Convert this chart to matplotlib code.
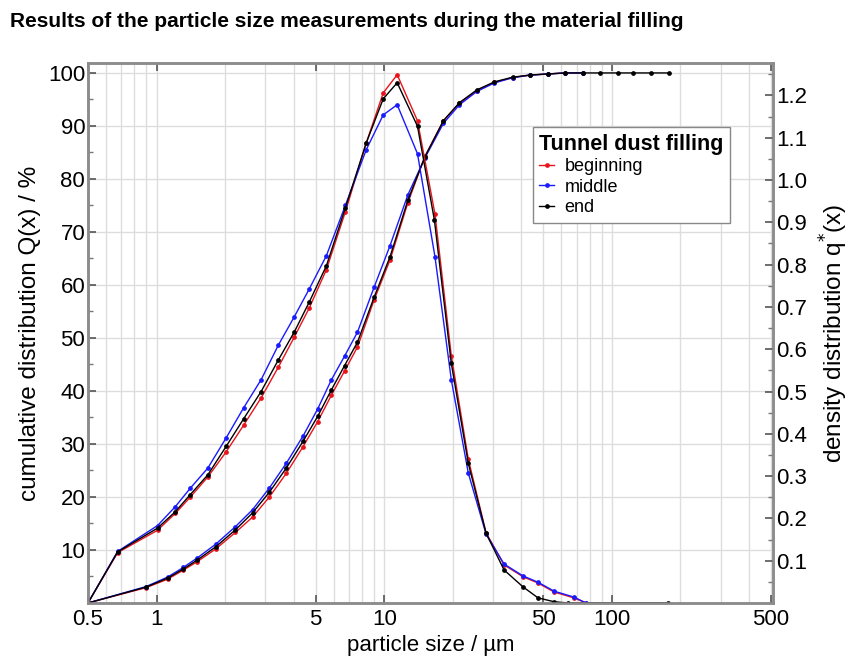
import numpy as np
import matplotlib
matplotlib.use("Agg")
import matplotlib.pyplot as plt
from matplotlib.ticker import FixedLocator, NullFormatter, LogLocator

plt.rcParams['font.family'] = ['Liberation Sans', 'DejaVu Sans']

# density distribution q*(x), right axis
dens_x = [0.5, 0.675, 1.01, 1.21, 1.405, 1.68, 2.02, 2.41, 2.88, 3.43, 4.03, 4.69,
          5.57, 6.75, 8.34, 9.9, 11.4, 14.0, 16.7, 19.7, 23.4, 28.0, 33.6, 40.7,
          47.4, 55.7, 68.1, 77.0]
dens_begin = [0, 0.119, 0.172, 0.212, 0.250, 0.298, 0.357, 0.420, 0.485, 0.558, 0.629, 0.698,
              0.788, 0.925, 1.088, 1.206, 1.249, 1.140, 0.920, 0.585, 0.340, 0.166, 0.090, 0.062,
              0.047, 0.026, 0.012, 0.0]
dens_middle = [0, 0.122, 0.183, 0.228, 0.271, 0.319, 0.390, 0.461, 0.528, 0.610, 0.677, 0.743,
               0.821, 0.940, 1.072, 1.154, 1.178, 1.062, 0.819, 0.528, 0.307, 0.163, 0.092, 0.064,
               0.049, 0.028, 0.014, 0.0]
dens_end_x = [0.5, 0.675, 1.01, 1.21, 1.405, 1.68, 2.02, 2.41, 2.88, 3.43, 4.03, 4.69,
              5.57, 6.75, 8.34, 9.9, 11.4, 14.0, 16.6, 19.7, 23.4, 28.0, 33.6, 40.7,
              47.4, 55.7, 64.0, 176.0]
dens_end = [0, 0.121, 0.177, 0.216, 0.256, 0.303, 0.370, 0.435, 0.500, 0.575, 0.641, 0.712,
            0.797, 0.934, 1.088, 1.192, 1.230, 1.127, 0.906, 0.567, 0.330, 0.165, 0.078, 0.038,
            0.012, 0.003, 0.0, 0.0]

# cumulative distribution Q(x) in %, left axis
cum_x = [0.5, 0.90, 1.12, 1.31, 1.51, 1.82, 2.22, 2.64, 3.13, 3.72, 4.4, 5.1, 5.86, 6.7,
         7.63, 9.03, 10.6, 12.7, 15.1, 18.2, 21.4, 25.5, 30.4, 36.6, 43.7, 52.2, 62.3, 74.6]
cum_begin = [0, 2.9, 4.5, 6.2, 7.8, 10.2, 13.3, 16.2, 20.0, 24.5, 29.5, 34.2, 39.2, 43.8,
             48.3, 57.2, 64.7, 75.5, 84.3, 91.0, 94.3, 96.6, 98.2, 99.1, 99.6, 99.8, 100, 100]
cum_middle = [0, 3.1, 4.9, 6.7, 8.5, 11.1, 14.4, 17.6, 21.7, 26.4, 31.5, 36.6, 42.1, 46.6,
              51.1, 59.6, 67.4, 77.0, 84.0, 90.5, 94.0, 96.5, 98.1, 99.1, 99.6, 99.8, 100, 100]
cum_end_x = cum_x + [88.5, 106, 124, 149, 178]
cum_end = [0, 3.0, 4.7, 6.4, 8.1, 10.6, 13.8, 17.0, 20.9, 25.5, 30.5, 35.2, 40.2, 44.8,
           49.2, 57.7, 65.3, 76.0, 84.2, 91.0, 94.4, 96.8, 98.3, 99.2, 99.6, 99.8, 100, 100,
           100, 100, 100, 100, 100]

labels = ["beginning", "middle", "end"]
colors = ["#e8141c", "#1a1aff", "#000000"]

fig = plt.figure(figsize=(8.51, 6.59), dpi=100)
ax = fig.add_axes([0.1034, 0.085, 0.805, 0.8196])
ax2 = ax.twinx()

ax.set_xscale("log")
ax.set_xlim(0.5, 510)
ax.set_ylim(0, 101.9)
ax2.set_ylim(0, 1.277)

series = [
    (cum_x, cum_begin, dens_x, dens_begin),
    (cum_x, cum_middle, dens_x, dens_middle),
    (cum_end_x, cum_end, dens_end_x, dens_end),
]
handles = []
for (cx, cy, dx, dy), lab, col in zip(series, labels, colors):
    ax.plot(cx, cy, color=col, lw=1.0, marker="o", ms=2.4, zorder=3)
    h, = ax2.plot(dx, dy, color=col, lw=1.0, marker="o", ms=2.4, label=lab)
    handles.append(h)

# x axis
ax.xaxis.set_major_locator(FixedLocator([0.5, 1, 5, 10, 50, 100, 500]))
ax.set_xticklabels(["0.5", "1", "5", "10", "50", "100", "500"])
ax.xaxis.set_minor_locator(LogLocator(base=10, subs=np.arange(1, 10)))
ax.xaxis.set_minor_formatter(NullFormatter())
ax.grid(True, which="both", axis="x", color="#dddddd", lw=1.0)

# left axis
ax.yaxis.set_major_locator(FixedLocator(np.arange(10, 101, 10)))
ax.yaxis.set_minor_locator(FixedLocator(np.arange(5, 101, 10)))
ax.grid(True, which="major", axis="y", color="#dddddd", lw=1.0)
ax.set_axisbelow(True)

# right axis
ax2.yaxis.set_major_locator(FixedLocator(np.round(np.arange(0.1, 1.21, 0.1), 2)))
ax2.set_yticklabels([f"{v:.1f}" for v in np.arange(0.1, 1.21, 0.1)])
ax2.yaxis.set_minor_locator(FixedLocator(np.round(np.arange(0.05, 1.26, 0.1), 2)))

for a in (ax, ax2):
    a.tick_params(which="major", direction="in", length=6, width=1.2, color="#555555",
                  labelsize=16, pad=2)
    a.tick_params(which="minor", direction="in", length=3.5, width=1.0, color="#777777")
    for s in a.spines.values():
        s.set_color("#8c8c8c")
        s.set_linewidth(1.8)
ax.tick_params(axis="x", which="major", top=True, pad=4)
ax.tick_params(axis="x", which="minor", top=False, bottom=False)

ax.set_xlabel("particle size / µm", fontsize=16, labelpad=4)
ax.set_ylabel("cumulative distribution Q(x) / %", fontsize=17.5, labelpad=5)
ax2.set_ylabel("density distribution q$^{*}$(x)", fontsize=17.5, labelpad=8)

leg = ax2.legend(handles=handles, title="Tunnel dust filling", loc="upper left",
                 bbox_to_anchor=(0.6263, 0.807), bbox_transform=fig.transFigure,
                 borderaxespad=0,
                 fontsize=13, handlelength=0.8, handletextpad=0.6, labelspacing=0.2,
                 borderpad=0.35, fancybox=False, framealpha=1, edgecolor="#888888",
                 alignment="left")
leg.get_title().set_fontweight("bold")
leg.get_title().set_fontsize(15.5)
leg.get_frame().set_linewidth(1.0)

fig.text(0.012, 0.968, "Results of the particle size measurements during the material filling",
         fontsize=15, fontweight="bold", ha="left", va="center")

fig.savefig("out.png", dpi=100)
